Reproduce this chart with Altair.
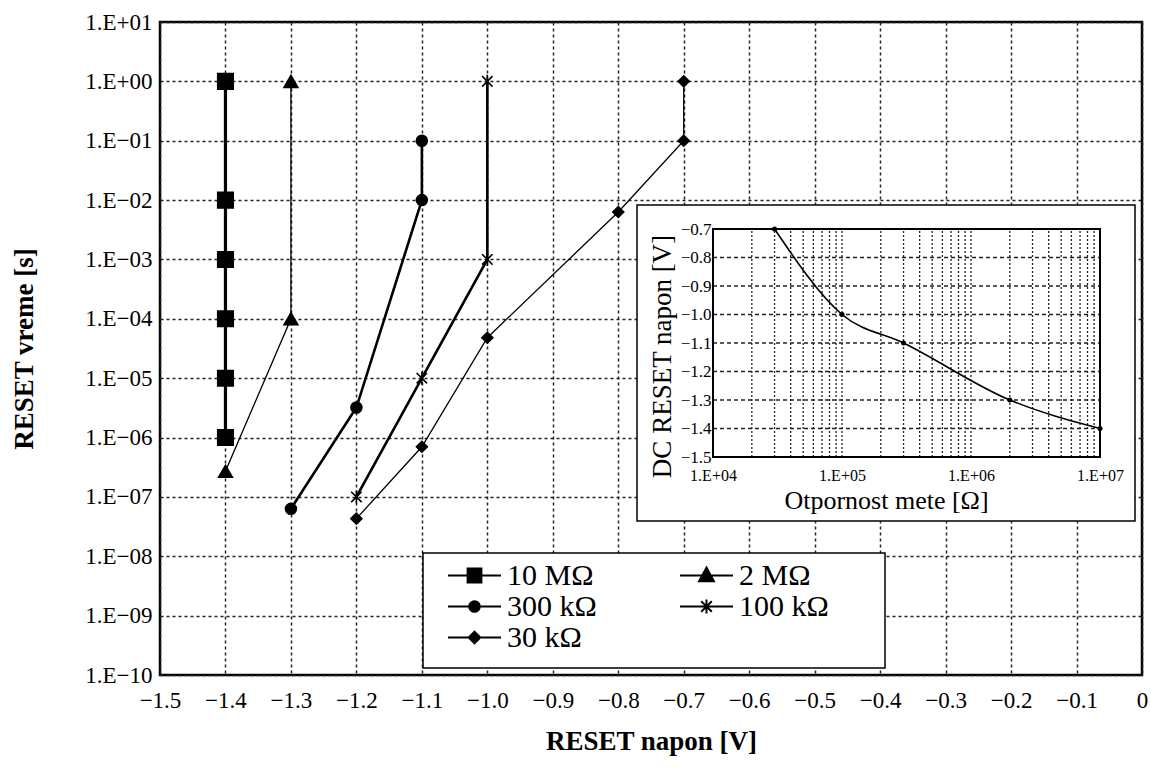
import altair as alt
import pandas as pd

# ---------------- data ----------------
series_names = ["10 MΩ", "2 MΩ", "300 kΩ", "100 kΩ", "30 kΩ"]
legend_order = ["10 MΩ", "300 kΩ", "30 kΩ", "2 MΩ", "100 kΩ"]

v_10M = [-1.4, -1.4, -1.4, -1.4, -1.4, -1.4]
t_10M = [1e0, 1e-2, 1e-3, 1e-4, 1e-5, 1e-6]

v_2M = [-1.4, -1.3, -1.3]
t_2M = [2.7e-7, 1e-4, 1e0]

v_300k = [-1.3, -1.2, -1.1, -1.1]
t_300k = [6.3e-8, 3.2e-6, 1e-2, 1e-1]

v_100k = [-1.2, -1.1, -1.0, -1.0]
t_100k = [1e-7, 1e-5, 1e-3, 1e0]

v_30k = [-1.2, -1.1, -1.0, -0.8, -0.7, -0.7]
t_30k = [4.3e-8, 7e-7, 4.8e-5, 6.3e-3, 1e-1, 1e0]

x_ticks = [-1.5, -1.4, -1.3, -1.2, -1.1, -1.0, -0.9, -0.8, -0.7, -0.6,
           -0.5, -0.4, -0.3, -0.2, -0.1, 0.0]
y_ticks = [1e1, 1e0, 1e-1, 1e-2, 1e-3, 1e-4, 1e-5, 1e-6, 1e-7, 1e-8, 1e-9, 1e-10]
y_tick_labels = ["1.E+01", "1.E+00", "1.E−01", "1.E−02", "1.E−03", "1.E−04",
                 "1.E−05", "1.E−06", "1.E−07", "1.E−08", "1.E−09", "1.E−10"]

# inset
inset_r = [3e4, 1e5, 3e5, 2e6, 1e7]
inset_u = [-0.7, -1.0, -1.1, -1.3, -1.4]
inset_x_ticks = [1e4, 1e5, 1e6, 1e7]
inset_x_labels = ["1.E+04", "1.E+05", "1.E+06", "1.E+07"]
inset_x_grid = [2e4, 3e4, 4e4, 5e4, 6e4, 7e4, 8e4, 9e4,
                1e5, 2e5, 3e5, 4e5, 5e5, 6e5, 7e5, 8e5, 9e5,
                1e6, 2e6, 3e6, 4e6, 5e6, 6e6, 7e6, 8e6, 9e6]
inset_y_ticks = [-1.5, -1.4, -1.3, -1.2, -1.1, -1.0, -0.9, -0.8, -0.7]
inset_y_grid = [-1.4, -1.3, -1.2, -1.1, -1.0, -0.9, -0.8]

# ---------------- tables ----------------
rows = []
for name, vs, ts in zip(series_names,
                        [v_10M, v_2M, v_300k, v_100k, v_30k],
                        [t_10M, t_2M, t_300k, t_100k, t_30k]):
    for i, (v, t) in enumerate(zip(vs, ts)):
        rows.append({"series": name, "v": v, "t": t, "order": i})
df = pd.DataFrame(rows)

inset_df = pd.DataFrame({"r": inset_r, "u": inset_u})
inset_xg_df = pd.DataFrame({"r": inset_x_grid})
inset_yg_df = pd.DataFrame({"u": inset_y_grid})
one_df = pd.DataFrame({"a": [0]})

FONT = "Liberation Serif"
W, H = 982, 653

star_path = "M-0.8,-0.8L0.8,0.8M-0.8,0.8L0.8,-0.8M0,-1V1"
main_shapes = ["square", "triangle-up", "circle", star_path, "diamond"]
main_sizes = [240, 190, 120, 170, 120]
line_widths = [3.2, 1.3, 2.6, 2.6, 1.3]
legend_paths = [
    "M-1,0H1M-0.26,-0.26H0.26V0.26H-0.26Z",
    "M-1,0H1M0,-0.3L0.28,0.22H-0.28Z",
    "M-1,0H1M0.2,0A0.2,0.2,0,1,1,-0.2,0A0.2,0.2,0,1,1,0.2,0Z",
    "M-1,0H1M-0.2,-0.2L0.2,0.2M-0.2,0.2L0.2,-0.2M0,-0.26V0.26",
    "M-1,0H1M0,-0.22L0.22,0L0,0.22L-0.22,0Z",
]

y_labels_js = "[" + ",".join(f"'{s}'" for s in y_tick_labels) + "]"
ix_labels_js = "[" + ",".join(f"'{s}'" for s in inset_x_labels) + "]"

# ---------------- main chart ----------------
x_main = alt.X("v:Q",
               scale=alt.Scale(domain=[-1.5, 0], nice=False, zero=False),
               axis=alt.Axis(values=x_ticks, title="RESET napon [V]",
                             labelExpr="datum.value == 0 ? '0' : format(datum.value, '.1f')",
                             labelFontSize=23, labelFont=FONT, labelColor="black",
                             labelPadding=14, ticks=False, domain=False,
                             labelFlush=False, labelOverlap=False,
                             titleFont=FONT, titleFontSize=27, titleFontWeight="bold",
                             titleColor="black", titlePadding=16,
                             grid=True, gridDash=[3, 3], gridColor="#222",
                             gridWidth=1.5, orient="bottom"))
y_main = alt.Y("t:Q",
               scale=alt.Scale(type="log", domain=[1e-10, 10], nice=False),
               axis=alt.Axis(values=y_ticks, title="RESET vreme [s]",
                             labelExpr=f"{y_labels_js}[round(1 - log(datum.value)/LN10)]",
                             labelFontSize=23, labelFont=FONT, labelColor="black",
                             labelPadding=8, ticks=False, domain=False,
                             labelFlush=False, labelOverlap=False,
                             titleFont=FONT, titleFontSize=27, titleFontWeight="bold",
                             titleColor="black", titlePadding=46,
                             grid=True, gridDash=[3, 3], gridColor="#222",
                             gridWidth=1.5, orient="left"))

legend_box = alt.Chart(one_df).mark_rect(fill="white", stroke="black", strokeWidth=1.5).encode(
    x=alt.value(263), x2=alt.value(725), y=alt.value(531), y2=alt.value(646))

lines = alt.Chart(df).mark_line(color="black").encode(
    x=x_main, y=y_main, detail="series:N", order="order:Q",
    strokeWidth=alt.StrokeWidth("series:N",
                                scale=alt.Scale(type="ordinal", domain=series_names,
                                                range=line_widths),
                                legend=None),
)

points = alt.Chart(df).mark_point(filled=True, color="black", stroke="black",
                                  strokeWidth=1.6, opacity=1).encode(
    x=x_main, y=y_main,
    shape=alt.Shape("series:N", scale=alt.Scale(domain=series_names, range=main_shapes),
                    legend=None),
    size=alt.Size("series:N", scale=alt.Scale(type="ordinal", domain=series_names,
                                              range=main_sizes),
                  legend=None),
)

legend_layer = alt.Chart(df).mark_point(filled=False, fill="black", stroke="black",
                                        strokeWidth=2, opacity=0).encode(
    x=x_main, y=y_main,
    shape=alt.Shape("series:N",
                    scale=alt.Scale(domain=series_names, range=legend_paths),
                    legend=alt.Legend(orient="none", legendX=263, legendY=528,
                                      columns=2, title=None, values=legend_order,
                                      symbolSize=2809, symbolOpacity=1,
                                      symbolStrokeWidth=2, clipHeight=31,
                                      labelFont=FONT, labelFontSize=30, labelColor="black",
                                      symbolOffset=14, labelOffset=5, labelLimit=400,
                                      rowPadding=0, columnPadding=68,
                                      padding=10)),
)

main = alt.layer(legend_box, lines, points, legend_layer).resolve_scale(
    shape="independent", size="independent")

# ---------------- inset ----------------
IX = [553, 940]
IY = [435, 207]
x_in_scale = alt.Scale(type="log", domain=[1e4, 1e7], range=IX, nice=False)
y_in_scale = alt.Scale(domain=[-1.5, -0.7], range=IY, nice=False, zero=False)

frame = alt.Chart(one_df).mark_rect(fill="white", stroke="black", strokeWidth=1.5).encode(
    x=alt.value(477), x2=alt.value(975), y=alt.value(183), y2=alt.value(499))

vgrid = alt.Chart(inset_xg_df).mark_rule(color="#222", strokeDash=[2, 2], strokeWidth=1.3).encode(
    x=alt.X("r:Q", scale=x_in_scale,
            axis=alt.Axis(values=inset_x_ticks, orient="bottom", offset=-218,
                          labelExpr=f"{ix_labels_js}[round(log(datum.value)/LN10) - 4]",
                          labelFont=FONT, labelFontSize=16, labelColor="black",
                          labelPadding=10, ticks=False, domain=False, grid=False,
                          labelFlush=False, labelOverlap=False,
                          title="Otpornost mete [Ω]", titleFont=FONT, titleFontSize=26,
                          titleFontWeight="normal", titleColor="black",
                          titleX=726, titleY=30, zindex=2)),
    y=alt.datum(-1.5), y2=alt.datum(-0.7),
)

hgrid = alt.Chart(inset_yg_df).mark_rule(color="#222", strokeDash=[4, 3], strokeWidth=1.3).encode(
    y=alt.Y("u:Q", scale=y_in_scale,
            axis=alt.Axis(values=inset_y_ticks, orient="left", offset=-553,
                          labelExpr="format(datum.value, '.1f')",
                          labelFont=FONT, labelFontSize=17, labelColor="black",
                          labelPadding=2, ticks=False, domain=False, grid=False,
                          labelFlush=False, labelOverlap=False,
                          title="DC RESET napon [V]", titleFont=FONT, titleFontSize=27,
                          titleFontWeight="normal", titleColor="black",
                          titleX=-51, titleY=334, titleBaseline="middle", zindex=2)),
    x=alt.datum(1e4), x2=alt.datum(1e7),
)

inset_border = alt.Chart(one_df).mark_rect(fill=None, stroke="black", strokeWidth=2).encode(
    x=alt.datum(1e4), x2=alt.datum(1e7), y=alt.datum(-1.5), y2=alt.datum(-0.7))

inset_line = alt.Chart(inset_df).mark_line(color="black", strokeWidth=1.6,
                                            interpolate="monotone").encode(
    x=alt.X("r:Q"), y=alt.Y("u:Q"))

inset_pts = alt.Chart(inset_df).mark_point(filled=True, color="black", size=25, opacity=1).encode(
    x=alt.X("r:Q"), y=alt.Y("u:Q"))

inset = alt.layer(frame, vgrid, hgrid, inset_border, inset_line, inset_pts)

chart = alt.layer(main, inset).resolve_scale(
    x="independent", y="independent"
).properties(
    width=W, height=H,
    padding={"left": 160, "top": 22, "right": 9, "bottom": 95},
    autosize=alt.AutoSizeParams(type="none"),
    background="white",
).configure_view(
    stroke="black", strokeWidth=2.5
).configure_axis(
    labelFont=FONT, titleFont=FONT
).configure_legend(
    labelFont=FONT, titleFont=FONT
).configure_text(font=FONT)

chart.save("out.html", embed_options={"renderer": "svg", "actions": False})
